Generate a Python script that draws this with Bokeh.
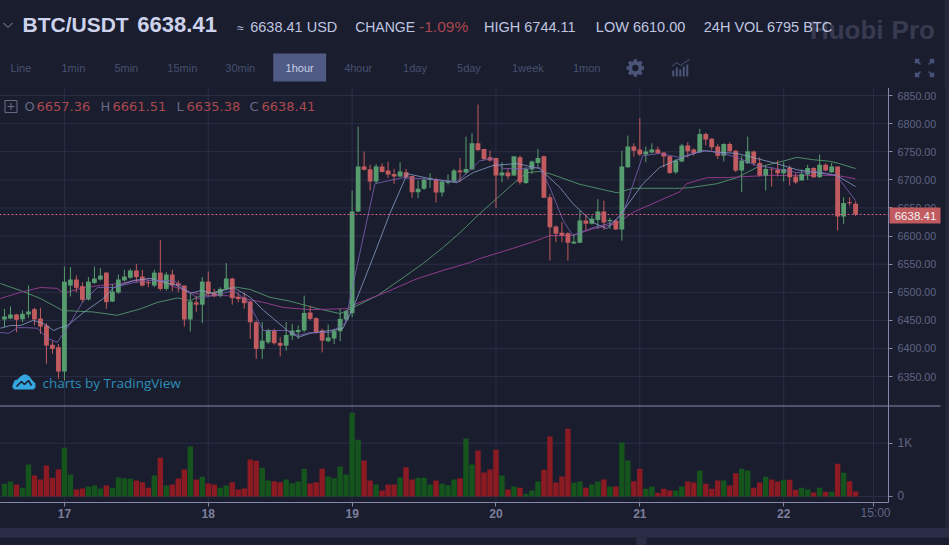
from bokeh.plotting import figure
from bokeh.layouts import column
from bokeh.embed import file_html
from bokeh.resources import INLINE
from bokeh.core.properties import value
from bokeh.models import Range1d, FixedTicker, Label, BoxAnnotation, NumeralTickFormatter

# ---------- data: hourly candles, hour 0 = day 17 00:00 ----------
first_hour = -10
opens = [6451.6,6453.3,6460.5,6452,6460.5,6470,6453.4,6440.9,6406.5,6402.3,
 6359,6512,6522.7,6510.9,6487.2,6516.8,6522.7,6535,6483.6,6499.6,6521,6526,6538.7,6528,6518,6512,6535,6506,6531.6,6516,6512,6451.6,6482,6478,6519,6499,6494,6506,6524.5,6492,
 6491,6483.5,6446.8,6399.3,6411,6432,6410,6405,6423,6429,6432,6464,6454,6432,6413,6417.7,6430.7,6451.5,
 6462.8,6643.6,6723.7,6719,6697,6723.7,6716.6,6710.6,6706,6713.6,6707,6678,6684,6700,6700,6677.4,6695,6697,6716.6,6713,
 6718.3,6765,6755,6740,6739,6707.7,6713,6707.7,6740,6694.6,6718.3,6730,6742,6669,6617,6606,6605,6587,6588,6627.6,6621.7,6628.8,6643.6,6626.4,6627.6,6611.6,6722.5,6759.3,6754,6745,6748.6,6754,6748.6,6742,6713.6,
 6732.6,6761,6754,6749.2,6781.8,6773,6759.3,6743,6764,6752,6716.6,6729.6,6750.4,6730,6707.7,6719.5,6718.3,6711.8,6721.3,6706,6698.8,6709.5,6721.3,6704.7,6727,6713.6,6723.7,6634.8,6660,6657.36]
highs = [6470.5,6474.7,6461.6,6467.6,6512,6472.3,6472.3,6445,6414,6408,
 6546,6544.7,6530,6518,6527,6545.9,6542.9,6535.8,6515,6531.6,6540,6541.7,6550.6,6540,6522,6540,6593,6535.8,6540,6521,6512,6497,6494,6527,6537,6506,6509,6552,6525.7,6500,
 6500,6485.3,6449.7,6446.8,6435,6435,6420,6447,6444,6441,6494,6476,6455.6,6435,6442.6,6435,6470.5,6468.7,
 6681,6794.8,6750.4,6727,6728.4,6729.6,6732.6,6719.5,6731.4,6719.5,6707,6698.8,6703,6712,6703.5,6698.8,6709.5,6719.5,6739,6777,
 6783,6834,6755,6752,6739,6731.4,6719.5,6742,6743,6722.5,6734.4,6755,6743,6675,6618.7,6624.7,6607,6604,6645.4,6639.5,6636.5,6665.6,6663,6632.4,6628.8,6752,6778.8,6765,6810,6759.3,6765,6759.3,6749.2,6743,6737.3,
 6764,6767,6756,6790.7,6784,6774,6764,6765,6767,6753.3,6743,6777,6752,6740,6725.5,6722.5,6734.4,6731.4,6725.5,6712,6718.3,6726.6,6722.5,6745,6729.6,6730,6723.7,6669,6669,6661.51]
lows = [6437.9,6452,6429,6446.8,6454.5,6441,6426,6372.7,6390.5,6346,
 6343,6492.5,6500,6482.4,6485.4,6515,6521,6470.5,6482.4,6497,6519,6524,6518,6510,6509,6509,6503,6503,6502,6500,6439,6430,6465,6445.6,6494,6491,6491,6504,6478,6482,
 6470.5,6417,6381.5,6381.5,6408,6407,6386,6396,6415,6417,6429,6450,6426,6393,6411,6408,6413,6449.7,
 6455.6,6642.4,6716.6,6681,6694,6713,6703.5,6693,6704.7,6701.8,6668,6667.3,6682,6685.7,6660,6670.3,6691.7,6695,6695.8,6710.6,
 6718,6751,6734.4,6732.6,6650,6695.8,6701.8,6707,6691.7,6692.8,6710.6,6722.5,6668,6556.5,6589,6589,6556.5,6586,6587.3,6610,6620.5,6612.8,6611,6612.8,6611,6592,6721.3,6741.5,6743,6731.4,6747.4,6746.2,6722.5,6710.6,6710.6,
 6731.4,6740,6743,6748,6761,6752,6737.3,6732.6,6749,6713.6,6678,6728.4,6725.5,6706,6681,6688,6706,6697,6690,6692.8,6698.8,6700,6703.5,6703.5,6715.4,6712.4,6609.8,6621.7,6654.3,6635.38]
closes = [6456.9,6460.5,6451,6461.6,6465.8,6451.6,6439,6405.3,6399.4,6359,
 6519,6522.7,6507.9,6486.6,6519,6524.5,6529.8,6482.4,6501.4,6522.7,6528,6538.7,6527,6512,6516,6535,6506,6531.6,6513,6512,6451.6,6483.6,6478,6519,6497,6493,6506,6524.5,6489.5,6488,
 6480.6,6446.8,6399.3,6414,6433,6409.4,6405,6424,6432,6433,6463.4,6452.7,6429,6414,6419.5,6432,6452.7,6466.3,
 6643.6,6723.7,6717.8,6697,6723.7,6714,6709.5,6706,6714.8,6704.7,6678,6684,6700,6703,6677.4,6697,6697,6716.6,6713.6,6719.5,
 6765.2,6753.3,6737.3,6734.4,6707.7,6713,6706.5,6742,6695.8,6719.5,6732.6,6739,6668,6615.8,6604,6601,6588,6590,6627.6,6621.7,6631,6643.6,6624,6628.8,6611.6,6723.7,6759.3,6752,6745,6750.4,6754,6747.4,6741.5,6712.4,6734.4,
 6761,6751,6747.4,6781.8,6771.7,6758,6743,6764,6751,6716.6,6734.4,6751,6729.6,6707.7,6719.5,6718.3,6711.8,6719.5,6704.7,6695.8,6710.6,6721.3,6704.7,6727,6716.6,6723.7,6634.8,6659,6658.5,6638.41]
volumes = [237,281,225,162,600,394,319,581,350,506,
 912,412,131,150,187,206,150,206,162,356,344,331,300,269,162,394,725,206,225,337,506,937,319,369,244,225,162,206,269,131,
 150,694,669,537,300,287,269,319,250,281,519,244,269,519,375,344,562,412,
 1569,1062,675,300,225,112,225,225,356,550,319,350,350,225,300,237,212,319,344,1087,
 600,862,450,506,875,394,131,187,162,50,112,281,500,1125,262,375,1269,256,281,162,225,281,319,187,187,1012,675,287,519,144,187,69,144,112,112,
 187,281,262,487,237,144,300,300,206,437,519,487,162,262,369,319,281,312,312,125,162,131,75,162,87,87,612,444,287,94]

hours = [first_hour + i for i in range(len(opens))]

# moving averages (hour, price)
ma_slow_h = [-10.7,-7.3,-4,-0.3,4.8,8.8,12.7,15.5,18.9,21,22.7,24.8,28.2,31,34.3,37.7,42.2,46,48.2,52.2,56.5,59.8,63.2,66,69.3,75.5,77.2,79.3,81,86,92.2,94.8,102.7,104.3,108.8,112.2,115.5,119.8,122.2,124.8,127.7,129.3,132]
ma_slow_p = [6515.6,6503,6489,6467.6,6465,6459,6470.6,6482,6490,6485,6494,6499.6,6510,6505,6491,6484,6471,6462,6473,6494,6526,6551,6580,6606,6640,6699,6713,6715,6711,6692,6677,6685,6685,6686,6693,6704,6722,6733,6740,6736,6733,6729,6720]
ma_mid_h = [-10.7,-7.3,-4,-1.2,-0.2,3.2,6,9.3,12.2,14.3,17.7,21,23.8,27.2,29.8,33.2,36.5,41,47.2,48.8,51.5,54.3,58.8,63.2,67.7,69.3,74.8,78.8,81,84.8,88.2,92.2,94.8,98.2,102.7,103.8,107.2,110.5,113.8,117.7,122.2,125.5,128.8,132]
ma_mid_p = [6489,6500,6508.5,6507,6498,6508.5,6512,6515.6,6521,6524.5,6512,6500,6494,6494,6489,6482,6473,6469,6471,6480,6491,6503,6524,6539,6553,6560,6578,6592,6601,6601,6613,6622,6642,6658,6679,6693,6704,6704,6706,6708,6708,6708,6708,6702]
ma_10_h = [-10.7,-9,-7.3,-5.2,-3.5,-1.8,-1,0.5,3.2,6.5,8.2,11.5,14.3,18.8,21,22.7,24.8,28.2,31,33.2,37.2,39,41,44.3,46.5,48.2,51.5,54.3,57.2,61,65.5,68.2,71.5,75.5,79.3,82.7,84.8,88.2,90.5,92.7,96.5,99.3,103.2,106.5,109.3,112.2,115.5,118.8,122.2,125.5,128.8,132]
ma_10_p = [6436,6441,6441,6450,6444.5,6432,6436,6441,6464,6489,6508.5,6521,6524.5,6512,6498,6503,6498,6508.5,6491,6468,6432,6420,6427,6432,6436,6473,6562,6640,6711,6702,6695,6713,6725.5,6729,6720,6686,6658,6624,6613,6637,6693,6722,6740,6752,6749,6747,6738,6729,6718,6713,6708,6688]
ma_5_h = [-10.7,-9.3,-7.8,-6.2,-4.5,-2.8,-1.2,0.5,3,5.5,8.2,11.5,14.3,18.2,20.5,22.2,24.8,28.2,30.5,33.2,37.2,39,41,44.3,46.8,48.2,51.8,56.5,61,65.5,67.7,69.3,71.5,73.2,76,79.3,81,83.2,84.8,88.2,91.5,93.2,96.5,99.3,102.7,104.8,107.2,109.8,112.2,115.5,118.8,122.2,125.5,128.8,132]
ma_5_p = [6428.5,6427,6437,6437,6436,6418,6411,6437,6482,6508.5,6508.5,6517,6521,6521,6503,6489,6494,6503,6485,6432,6432,6423,6428.5,6428.5,6444.5,6516,6693,6704,6701,6697,6717,6734,6738,6720,6720,6722,6686,6628,6601,6615,6624,6640,6743,6747,6740,6747,6752,6747,6740,6725.5,6720,6713,6715,6708,6663]

price_ticks = [6350,6400,6450,6500,6550,6600,6650,6700,6750,6800,6850]
time_ticks = [0,24,48,72,96,120,135]
time_labels = {0:"17",24:"18",48:"19",72:"20",96:"21",120:"22",135:""}
vol_ticks = [0,1000]
last_price = 6638.41

# ---------- colours ----------
BG = "#1a1d2e"; GRID = "#2b2e47"; AXIS = "#8487a5"; TICKTXT = "#5f6482"
UP = "#569c6e"; DOWN = "#c25b5f"; VUP = "#15541d"; VDOWN = "#8c1a22"
BAND = "#2b2d47"; EDGE = "#262839"
SANS = value("Liberation Sans")

# Each canvas paints a hairline along its top and left edge. The figures are pulled
# one pixel up and left, so the edge sits off the page or under the pane above it.
X_LEFT, X_RIGHT = -65/6, (950-64)/6
X_AXIS = (889-64)/6
PRICE_BOTTOM, PRICE_TOP = 6298.6, 6864.3
VOL_BOTTOM, VOL_TOP = -918.8, 1725
VOL_AXIS = -112.5

def layer(z):
    return {"position": "relative", "z-index": str(z)}

# ---------- header strip ----------
head = figure(width=951, height=89, output_backend="svg", toolbar_location=None,
              x_range=Range1d(-1, 950), y_range=Range1d(88, -1),
              x_axis_location=None, y_axis_location=None, min_border=0,
              background_fill_color=BG, border_fill_color=BG, outline_line_color=None,
              margin=(-1, 0, 0, -1), styles=layer(3))
head.grid.visible = False

def t(x, y, s, size, color, bold=False, align="left", font=SANS):
    head.text([x], [y], text=[s], text_font=font, text_font_size=size, text_color=color,
              text_baseline="middle", text_align=align,
              text_font_style="bold" if bold else "normal")

WM = "#383b50"
t(884, 29, "Huobi", "26px", WM, bold=True, align="right")
t(892, 29, "Pro", "26px", WM, bold=True)
head.line([3, 7.5, 12], [22.5, 27, 22.5], line_color="#8a90ad", line_width=1)
t(22, 24, "BTC/USDT", "21px", "#cdd3ec", bold=True)
t(137, 24, "6638.41", "22px", "#cdd3ec", bold=True)
TXT = "#bfc5e0"
t(237, 27, "≈", "12px", TXT)
t(250, 26, "6638.41 USD", "14.5px", TXT)
t(355, 26, "CHANGE", "14px", TXT)
t(419, 26, "-1.09%", "15.5px", "#a8474e")
t(484, 26, "HIGH 6744.11", "14.5px", TXT)
t(596, 26, "LOW 6610.00", "14.5px", TXT)
t(704, 26, "24H VOL 6795 BTC", "14.5px", TXT)

head.quad(left=[273], right=[326], top=[53], bottom=[81], fill_color="#4f5b85", line_color=None)
tabs = [("Line",10),("1min",61),("5min",114),("15min",167),("30min",225),("4hour",344),
        ("1day",403),("5day",457),("1week",512),("1mon",573)]
for s, x in tabs:
    t(x, 67.5, s, "11px", "#46516f")
t(299.5, 67.5, "1hour", "11px", "#c8cde6", align="center")

# gear, indicator and full-screen icons
ICON = "#4a5578"
head.annulus(x=[635.5], y=[67.5], inner_radius=3.2, outer_radius=7, fill_color=ICON, line_color=None)
head.rect(x=[635.5]*4, y=[67.5]*4, width=[3.5]*4, height=[17.5]*4, angle=[0,0.785,1.571,2.356],
          fill_color=ICON, line_color=None)
head.annulus(x=[635.5], y=[67.5], inner_radius=0, outer_radius=3.2, fill_color=BG, line_color=None)
head.quad(left=[672.5,676,679.5,683,686.5], right=[674.5,678,681.5,685,688.5],
          top=[70,67,69,66,64], bottom=[76,76,76,76,76], fill_color=ICON, line_color=None)
head.line([672,677,681,685,690], [66,62,65,62,59], line_color=ICON, line_width=1)
EXP = "#47517a"
for a, b, c, d in [(916,59,921,64),(934,59,929,64),(916,76,921,71),(934,76,929,71)]:
    head.segment([a],[b],[c],[d], line_color=EXP, line_width=1.5)
head.scatter([917.5,932.5,917.5,932.5],[60.5,60.5,74.5,74.5], marker="square", size=4.5,
             fill_color=EXP, line_color=None)
head.quad(left=[945], right=[950], top=[-1], bottom=[88], fill_color=EDGE, line_color=None)

# ---------- price pane ----------
price = figure(width=951, height=318, output_backend="svg", toolbar_location=None,
               x_range=Range1d(X_LEFT, X_RIGHT), y_range=Range1d(PRICE_BOTTOM, PRICE_TOP),
               y_axis_location="right", min_border=0,
               background_fill_color=BG, border_fill_color=BG, outline_line_color=None,
               margin=(-1, 0, 0, -1), styles=layer(2))
price.xaxis.visible = False
price.yaxis.ticker = FixedTicker(ticks=price_ticks)
price.yaxis.formatter = NumeralTickFormatter(format="0.00")
price.yaxis.fixed_location = X_AXIS
price.grid.visible = False

# grid lines stop at the axis
price.segment(time_ticks, [PRICE_BOTTOM]*len(time_ticks), time_ticks, [PRICE_TOP]*len(time_ticks),
              line_color=GRID, line_width=1)
price.segment([X_LEFT]*len(price_ticks), price_ticks, [X_AXIS]*len(price_ticks), price_ticks,
              line_color=GRID, line_width=1)

up = [c >= o for o, c in zip(opens, closes)]
colors = [UP if u else DOWN for u in up]
tops = [max(o, c) for o, c in zip(opens, closes)]
bots = [min(o, c) for o, c in zip(opens, closes)]

price.line(ma_slow_h, ma_slow_p, line_color="#4f8a68", line_width=1)
price.line(ma_mid_h, ma_mid_p, line_color="#8f3a8c", line_width=1)
price.segment(hours, highs, hours, lows, line_color=colors, line_width=1)
price.vbar(x=hours, top=tops, bottom=bots, width=0.8, fill_color=colors, line_color=None)
price.line(ma_10_h, ma_10_p, line_color="#8ea6d0", line_width=1, line_alpha=0.75)
price.line(ma_5_h, ma_5_p, line_color="#7d63b8", line_width=1, line_alpha=0.8)
price.line([X_LEFT, X_AXIS], [last_price, last_price], line_color="#d4608a",
           line_dash="2 2", line_width=1)

# screen units count from the frame's left edge, which is at page x = -1
def box(fig, l, r, top, bottom, color, base):
    fig.add_layout(BoxAnnotation(left=l+1, right=r+1, top=base-top, bottom=base-bottom,
                                 left_units="screen", right_units="screen",
                                 top_units="screen", bottom_units="screen",
                                 fill_color=color, fill_alpha=1, line_color=None))

def lab(fig, x, y, s, size, color, bold=False, align="left", font="Liberation Sans", base=405):
    fig.add_layout(Label(x=x+1, y=base-y, x_units="screen", y_units="screen", text=s,
                         text_font=font, text_font_size=size, text_color=color,
                         text_baseline="middle", text_align=align,
                         text_font_style="bold" if bold else "normal"))

box(price, 945, 950, 87, 405, EDGE, 405)

# last-price tag
box(price, 889, 940, 207, 223, "#c25b5f", 405)
lab(price, 915, 215, "6638.41", "11.5px", "#f2f2f6", align="center")

# OHLC legend
ROW = 106; DEJA = "DejaVu Sans"
CY = lambda v: 7018.98-1.7787*v
CX = lambda v: (v-64)/6
price.quad(left=[CX(4.5)], right=[CX(16.5)], top=[CY(100)], bottom=[CY(112)],
           fill_color=None, line_color="#6a6e8a", line_width=1)
price.segment([CX(7), CX(10.5)], [CY(106), CY(102.5)], [CX(14), CX(10.5)], [CY(106), CY(109.5)],
              line_color="#6a6e8a", line_width=1)
for s, x, c in [("O",24,"#666a86"),("6657.36",36,"#a9494e"),("H",100,"#666a86"),("6661.51",112,"#a9494e"),
                ("L",176,"#666a86"),("6635.38",186,"#a9494e"),("C",249,"#666a86"),("6638.41",261,"#a9494e")]:
    lab(price, x, ROW, s, "13px", c, font=DEJA)

# TradingView mark
price.patch([CX(v) for v in [12,14,17,20,23,26,29,32,35,35,33,14,12]],
            [CY(v) for v in [385,380,379,376,374,374,376,380,383,387,389,389,387]],
            fill_color="#35a7e0", line_color=None)
price.line([CX(v) for v in [16,21,24,28,31]], [CY(v) for v in [386,381,384,380,385]],
           line_color=BG, line_width=1.5)
lab(price, 42, 382, "charts by TradingView", "13.5px", "#2e8db8", font="Open Sans")

# ---------- volume pane ----------
vol = figure(width=951, height=141, output_backend="svg", toolbar_location=None,
             x_range=price.x_range, y_range=Range1d(VOL_BOTTOM, VOL_TOP),
             y_axis_location="right", min_border=0,
             background_fill_color=BG, border_fill_color=BG, outline_line_color=None,
             margin=(-1, 0, 0, -1), styles=layer(1))
vol.grid.visible = False
vol.segment(time_ticks, [VOL_AXIS]*len(time_ticks), time_ticks, [VOL_TOP]*len(time_ticks),
            line_color=GRID, line_width=1)
vol.segment([X_LEFT]*len(vol_ticks), vol_ticks, [X_AXIS]*len(vol_ticks), vol_ticks,
            line_color=GRID, line_width=1)
vol.vbar(x=hours, top=volumes, bottom=0, width=0.9,
         fill_color=[VUP if u else VDOWN for u in up], line_color=None)
vol.xaxis.ticker = FixedTicker(ticks=time_ticks)
vol.xaxis.major_label_overrides = {int(k): v for k, v in time_labels.items()}
vol.xaxis.major_label_text_font_style = "bold"
vol.xaxis.major_label_standoff = 3
vol.xaxis.fixed_location = VOL_AXIS
vol.xaxis.bounds = (X_LEFT, X_AXIS)
vol.yaxis.ticker = FixedTicker(ticks=vol_ticks)
vol.yaxis.major_label_overrides = {0: "0", 1000: "1K"}
vol.yaxis.fixed_location = X_AXIS
vol.yaxis.bounds = (VOL_AXIS, VOL_TOP)
lab(vol, 875, 512.5, "15:00", "12px", TICKTXT, align="center", base=545)

# separator above the pane, band under the panel, lower panels and right edge
box(vol, -1, 940, 405, 406, AXIS, 545)
box(vol, 945, 950, 405, 527, EDGE, 545)
box(vol, -1, 950, 527.3, 537, BAND, 545)
box(vol, 636, 646, 537, 545, BAND, 545)

for ax in [price.yaxis[0], vol.yaxis[0], vol.xaxis[0]]:
    ax.axis_line_color = AXIS
    ax.major_tick_line_color = AXIS
    ax.major_tick_in = 0
    ax.major_tick_out = 4
    ax.minor_tick_line_color = None
    ax.major_label_text_color = TICKTXT
    ax.major_label_text_font = "Liberation Sans"
    ax.major_label_text_font_size = "10.7px"
vol.xaxis.major_label_text_color = "#7b7f9b"
vol.xaxis.major_label_text_font_size = "12px"
vol.yaxis.major_label_text_font_size = "12px"

page = column(head, price, vol, spacing=0)
open("out.html", "w").write(file_html(page, INLINE))
